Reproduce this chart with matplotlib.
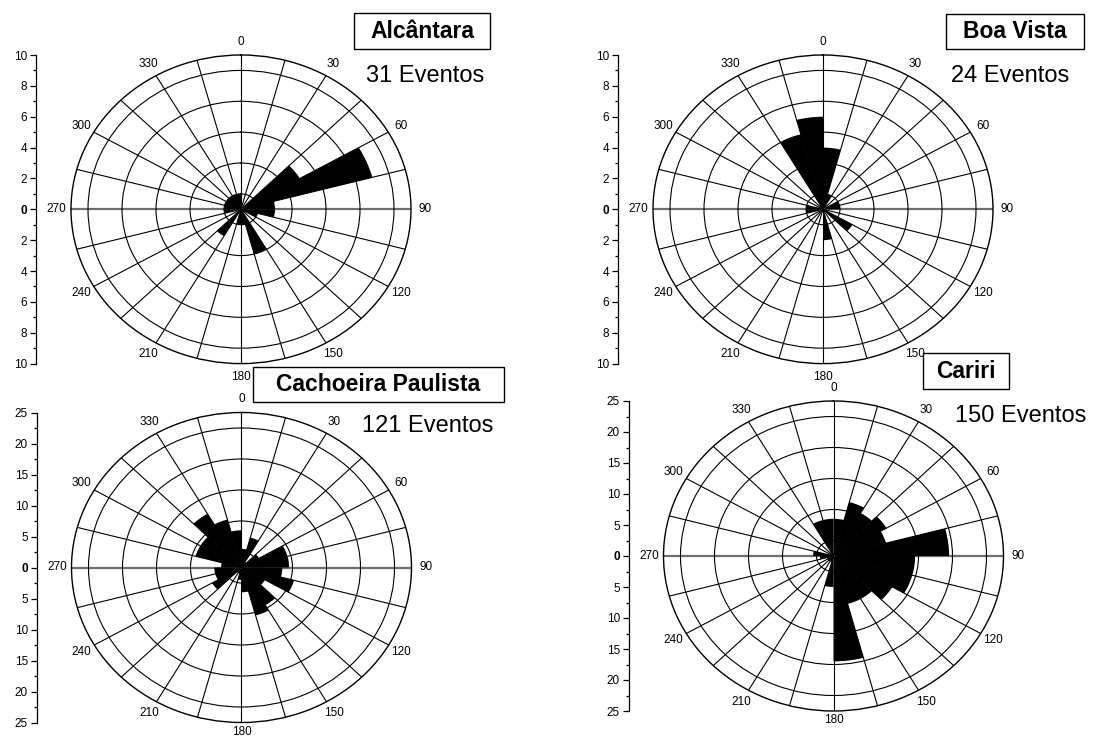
import numpy as np
import matplotlib.pyplot as plt
from matplotlib.patches import Rectangle
from matplotlib.ticker import MultipleLocator

plt.rcParams['font.family'] = ['Liberation Sans', 'DejaVu Sans']

W, H = 1098, 738

# event counts per 15 degree sector, clockwise from north (0-15, 15-30, ...)
alcantara = [0, 0, 0, 4, 8, 2, 2, 1, 0, 0, 3, 1, 1, 0, 2, 0, 0, 1, 1, 1, 1, 1, 1, 1]
boa_vista = [4, 1, 0, 0, 1, 1, 0, 0, 2, 0, 0, 2, 0, 0, 0, 0, 0, 1, 1, 0, 0, 0, 5, 6]
cachoeira = [3, 5, 1, 3, 7, 7, 6, 8, 4, 7, 8, 4, 2, 1, 1, 5, 4, 4, 3, 7, 7, 10, 8, 6]
cariri = [6, 9, 8, 9, 8, 17, 12, 12, 10, 8, 8, 17, 5, 1, 1, 1, 1, 2, 3, 0, 0, 0, 6, 6]

stations = ['Alcântara', 'Boa Vista', 'Cachoeira Paulista', 'Cariri']
n_events = [31, 24, 121, 150]
counts = [alcantara, boa_vista, cachoeira, cariri]
rmax = [10, 10, 25, 25]
rstep = [2, 2, 5, 5]

# layout in pixels: plot centre, half widths, left axis x, title box, count text
centers = [(241, 209.3), (823, 209.3), (241.5, 567.5), (833.5, 556)]
half = [(170, 154.3), (170, 154.3), (170, 155), (170, 155)]
axis_x = [36, 618, 37, 629]
boxes = [(354, 13, 136, 36), (946, 14, 138, 35), (253, 367, 251, 35), (923, 353, 86, 36)]
count_pos = [(425, 76), (1010, 76), (428, 426), (1021, 416)]

sector = np.deg2rad(15)
theta = np.arange(24) * sector

fig = plt.figure(figsize=(W / 100, H / 100), dpi=100)

for k in range(4):
    cx, cy = centers[k]
    rx, ry = half[k]
    rm = rmax[k]
    ax = fig.add_axes([(cx - rx) / W, 1 - (cy + ry) / H, 2 * rx / W, 2 * ry / H],
                      projection='polar')
    ax.set_aspect('auto')
    ax.set_theta_zero_location('N')
    ax.set_theta_direction(-1)
    ax.set_ylim(0, rm)
    ax.set_axisbelow(True)

    ax.set_xticks(theta)
    ax.set_xticklabels([])
    ax.set_yticks(np.arange(rstep[k] / 2, rm, rstep[k]))
    ax.set_yticklabels([])
    ax.grid(True, color='black', lw=0.8)
    gl = ax.xaxis.get_gridlines()
    for i in (6, 18):
        gl[i].set_color('#6e6e6e')
        gl[i].set_linewidth(1.6)
    ax.spines['polar'].set_linewidth(1.0)
    ax.tick_params(length=0)

    ax.bar(theta, counts[k], width=sector, align='edge', color='black',
           edgecolor='none', zorder=3)

    for deg in range(0, 360, 30):
        f = 1.085
        if deg == 180 and k >= 2:
            f = 1.06
        ax.text(np.deg2rad(deg), rm * f, str(deg), ha='center', va='center',
                fontsize=8.5, clip_on=False)

    # linear scale on the left, mirrored around zero
    ay = fig.add_axes([axis_x[k] / W, 1 - (cy + ry) / H, 0.0005, 2 * ry / H])
    ay.set_ylim(-rm, rm)
    ay.patch.set_visible(False)
    for s in ('top', 'right', 'bottom'):
        ay.spines[s].set_visible(False)
    ay.spines['left'].set_linewidth(0.9)
    ay.set_xticks([])
    ticks = np.arange(-rm, rm + 0.1, rstep[k])
    ay.set_yticks(ticks)
    ay.set_yticklabels([f'{abs(t):g}' for t in ticks])
    ay.yaxis.set_minor_locator(MultipleLocator(rstep[k] / 2))
    ay.tick_params(axis='y', which='major', length=4.5, width=0.9, labelsize=8.5, pad=2)
    ay.tick_params(axis='y', which='minor', length=2.5, width=0.9)
    for lab, t in zip(ay.get_yticklabels(), ticks):
        if t == 0:
            lab.set_fontweight('bold')

    bx, by, bw, bh = boxes[k]
    fig.add_artist(Rectangle((bx / W, 1 - (by + bh) / H), bw / W, bh / H,
                             transform=fig.transFigure, fc='white', ec='black', lw=1.0))
    fig.text((bx + bw / 2) / W, 1 - (by + bh / 2) / H, stations[k], ha='center',
             va='center', fontsize=16.5, fontweight='bold')
    tx, ty = count_pos[k]
    fig.text(tx / W, 1 - ty / H, f'{n_events[k]} Eventos', ha='center', va='center',
             fontsize=17)

fig.savefig('out.png', dpi=100)
